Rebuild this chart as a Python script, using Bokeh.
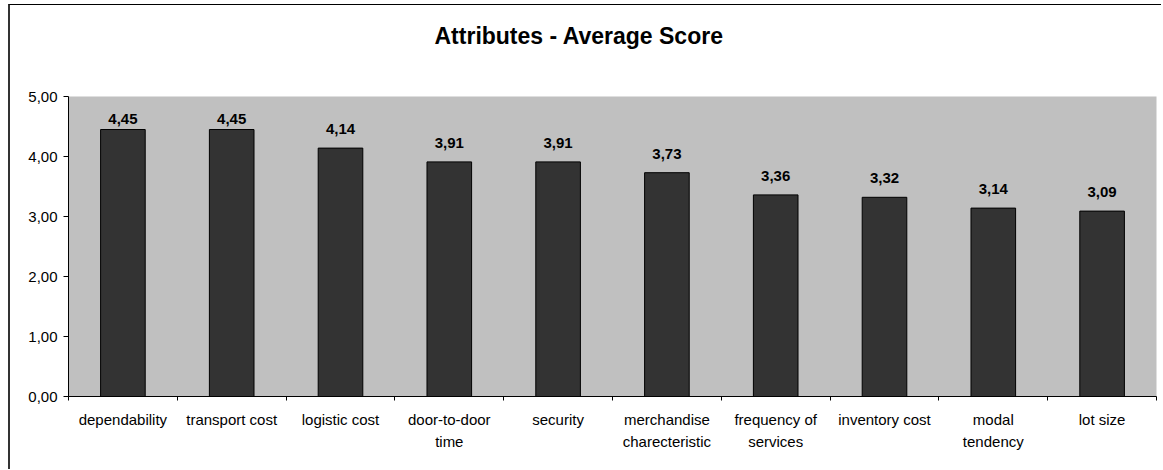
from bokeh.plotting import figure
from bokeh.models import Range1d, FixedTicker, ColumnDataSource, LabelSet, Title
from bokeh.core.properties import value
from bokeh.embed import file_html
from bokeh.resources import INLINE

title_text = "Attributes - Average Score"
categories = ["dependability", "transport cost", "logistic cost", "door-to-door\ntime",
              "security", "merchandise\ncharecteristic", "frequency of\nservices",
              "inventory cost", "modal\ntendency", "lot size"]
scores = [4.45, 4.45, 4.14, 3.91, 3.91, 3.73, 3.36, 3.32, 3.14, 3.09]
score_labels = ["4,45", "4,45", "4,14", "3,91", "3,91", "3,73", "3,36", "3,32", "3,14", "3,09"]
y_ticks = [0, 1, 2, 3, 4, 5]
y_tick_labels = ["0,00", "1,00", "2,00", "3,00", "4,00", "5,00"]

n = len(categories)
y_max = 5
frame_h = 300
px_per_unit = frame_h / y_max
xs = [i + 0.5 for i in range(n)]
# labels float 14px above bars, but are kept clear of the top of the plot area (like Excel)
offsets = [min(14, (y_max - s) * px_per_unit - 27) for s in scores]
src = ColumnDataSource(dict(x=xs, y=scores, lab=score_labels, off=offsets))

p = figure(width=1153, height=465, output_backend="svg", toolbar_location=None, title=None,
           x_range=Range1d(0, n), y_range=Range1d(0, y_max),
           min_border_left=58, min_border_right=7, min_border_top=91, min_border_bottom=74)
p.styles = {"margin-left": "8px", "margin-top": "4px",
            "border-left": "2px solid #333333", "border-top": "1px solid #000000"}
p.background_fill_color = "#C0C0C0"
p.border_fill_color = "white"
p.outline_line_color = None
p.grid.visible = False

# spacer nearest the plot area, then the real title above it
spacer = Title(text=" ", text_font_size="1px", standoff=25)
p.add_layout(spacer, "above")
main_title = Title(text=title_text, align="left", offset=366, vertical_align="top",
                   text_font="Liberation Sans", text_font_size="23px", text_font_style="bold",
                   text_color="black", standoff=35)
p.add_layout(main_title, "above")

p.vbar(x="x", top="y", width=0.41, source=src, fill_color="#333333", line_color="black", line_width=1)
labels = LabelSet(x="x", y="y", text="lab", source=src, text_align="center", text_baseline="alphabetic",
                  y_offset="off", text_font=value("Liberation Sans"), text_font_size=value("15px"),
                  text_font_style="bold", text_color="black")
p.add_layout(labels)

xa = p.xaxis[0]
xa.ticker = FixedTicker(ticks=xs, minor_ticks=list(range(n + 1)))
xa.major_label_overrides = {x: c for x, c in zip(xs, categories)}
xa.major_tick_out = 0
xa.major_tick_in = 0
xa.minor_tick_out = 4
xa.minor_tick_in = 0
xa.minor_tick_line_color = "black"
xa.axis_line_color = "black"
xa.major_label_standoff = 10
xa.major_label_text_font = "Liberation Sans"
xa.major_label_text_font_size = "15px"
xa.major_label_text_color = "black"
xa.major_label_text_line_height = 1.35

ya = p.yaxis[0]
ya.ticker = FixedTicker(ticks=y_ticks, minor_ticks=[])
ya.major_label_overrides = {t: l for t, l in zip(y_ticks, y_tick_labels)}
ya.major_tick_out = 5
ya.major_tick_in = 0
ya.minor_tick_line_color = None
ya.axis_line_color = "black"
ya.major_tick_line_color = "black"
ya.major_label_standoff = 6
ya.major_label_text_font = "Liberation Sans"
ya.major_label_text_font_size = "15px"
ya.major_label_text_color = "black"

open("out.html", "w").write(file_html(p, INLINE))
